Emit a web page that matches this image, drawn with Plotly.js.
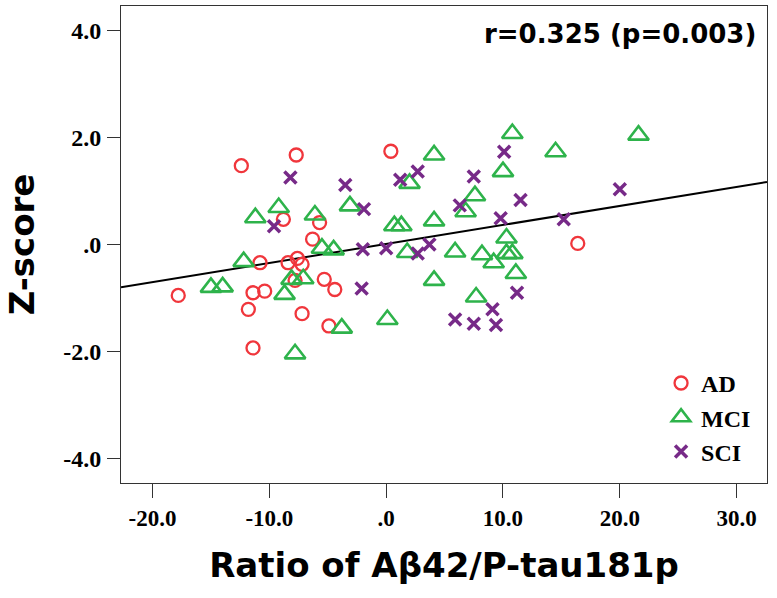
<!DOCTYPE html>
<html>
<head>
<meta charset="utf-8">
<script src="https://cdn.plot.ly/plotly-3.0.1.min.js"></script>
<style>html,body{margin:0;padding:0;background:#fff;}#chart{width:777px;height:598px;}</style>
</head>
<body>
<div id="chart"></div>
<script>
// AD group
const adX = [-12.4, -7.7, -8.8, -5.7, -6.3, -10.8, -8.4, -7.6, -7.2, -17.8, -11.4, -10.4, -7.8, -5.3, -4.4, -11.8, -7.2, -4.9, -11.4, 0.4, 16.4];
const adY = [1.47, 1.67, 0.47, 0.41, 0.10, -0.34, -0.34, -0.26, -0.37, -0.95, -0.90, -0.87, -0.67, -0.65, -0.84, -1.21, -1.29, -1.52, -1.93, 1.74, 0.02];
// MCI group
const mciX = [-11.2, -9.2, -6.1, -5.5, -4.5, -12.2, -15.0, -14.0, -8.1, -7.1, -8.7, -7.8, 10.8, 4.1, 10.0, 2.0, -3.1, 7.6, 6.8, 0.7, 1.3, 4.1, 10.3, 1.8, 5.9, 8.2, 9.2, 10.3, 10.8, 11.1, 4.1, 7.7, 0.1, -3.8, 14.5, 21.6];
const mciY = [0.50, 0.69, 0.55, -0.07, -0.10, -0.32, -0.80, -0.79, -0.65, -0.64, -0.93, -2.04, 2.07, 1.67, 1.36, 1.14, 0.72, 0.91, 0.61, 0.35, 0.35, 0.44, 0.12, -0.15, -0.14, -0.19, -0.34, -0.17, -0.17, -0.54, -0.67, -0.98, -1.40, -1.56, 1.73, 2.04];
// SCI group
const sciX = [-8.2, -9.6, -3.5, 1.2, 2.7, 7.5, 10.1, -1.9, 6.3, 11.5, 9.8, -2.0, 0.0, 2.7, 3.7, -2.1, 11.2, 9.1, 5.9, 7.5, 9.4, 20.0, 15.2];
const sciY = [1.25, 0.34, 1.11, 1.21, 1.36, 1.27, 1.73, 0.66, 0.73, 0.83, 0.49, -0.09, -0.07, -0.17, 0.00, -0.82, -0.90, -1.21, -1.40, -1.48, -1.50, 1.03, 0.47];

// Fit line
const fitSlope = 0.0355;
const fitIntercept = 0.01;

const xRange = [-22.7, 32.6];
const yRange = [-4.45, 4.45];
const xTickVals = [-20, -10, 0, 10, 20, 30];
const xTickText = ['-20.0', '-10.0', '.0', '10.0', '20.0', '30.0'];
const yTickVals = [-4, -2, 0, 2, 4];
const yTickText = ['-4.0', '-2.0', '.0', '2.0', '4.0'];

const fitX = xRange.slice();
const fitY = fitX.map(v => fitIntercept + fitSlope * v);

const traces = [
  {x: fitX, y: fitY, mode: 'lines', line: {color: '#000', width: 2}, showlegend: false, hoverinfo: 'skip'},
  {x: adX, y: adY, mode: 'markers', name: 'AD', marker: {symbol: 'circle-open', size: 13, color: '#f0363c', line: {width: 2.3, color: '#f0363c'}}},
  {x: mciX, y: mciY, mode: 'markers', name: 'MCI', marker: {symbol: 'triangle-up-open', size: 18, color: '#2eb34b', line: {width: 2.6, color: '#2eb34b'}}},
  {x: sciX, y: sciY, mode: 'markers', name: 'SCI', marker: {symbol: 'x-thin-open', size: 12, color: '#772a88', line: {width: 3.5, color: '#772a88'}}}
];

const sansBold = 'DejaVu Sans';
const serifBold = 'Liberation Serif';

const layout = {
  width: 777, height: 598,
  margin: {l: 121, r: 10, t: 6, b: 115},
  paper_bgcolor: '#fff', plot_bgcolor: '#fff',
  showlegend: true,
  legend: {x: 0.836, y: 0.256, xanchor: 'left', yanchor: 'top', bgcolor: 'rgba(0,0,0,0)',
           font: {family: serifBold, size: 24, color: '#000', weight: 'bold'}, tracegroupgap: 0, itemwidth: 30},
  xaxis: {range: xRange, tickvals: xTickVals, ticktext: xTickText, ticks: 'outside', ticklen: 14, tickcolor: '#333', tickwidth: 1,
          showgrid: false, zeroline: false, showline: true, mirror: true, linecolor: '#333', linewidth: 1,
          tickfont: {family: serifBold, size: 23, color: '#000', weight: 'bold'},
          title: {text: 'Ratio of Aβ42/P-tau181p', font: {family: sansBold, size: 34, color: '#000', weight: 'bold'}, standoff: 23}},
  yaxis: {range: yRange, tickvals: yTickVals, ticktext: yTickText, ticks: 'outside', ticklen: 13, tickcolor: '#333', tickwidth: 1,
          ticklabelstandoff: 1,
          showgrid: false, zeroline: false, showline: true, mirror: true, linecolor: '#333', linewidth: 1,
          tickfont: {family: serifBold, size: 24, color: '#000', weight: 'bold'},
          title: {text: 'Z-score', font: {family: sansBold, size: 34, color: '#000', weight: 'bold'}, standoff: 18}},
  annotations: [{xref: 'paper', yref: 'paper', x: 1, y: 0.941, xanchor: 'right', yanchor: 'middle', xshift: -9, showarrow: false,
                 text: 'r=0.325 (p=0.003)', font: {family: sansBold, size: 26, color: '#000', weight: 'bold'}}]
};

Plotly.newPlot('chart', traces, layout, {displayModeBar: false, staticPlot: true});
</script>
</body>
</html>
